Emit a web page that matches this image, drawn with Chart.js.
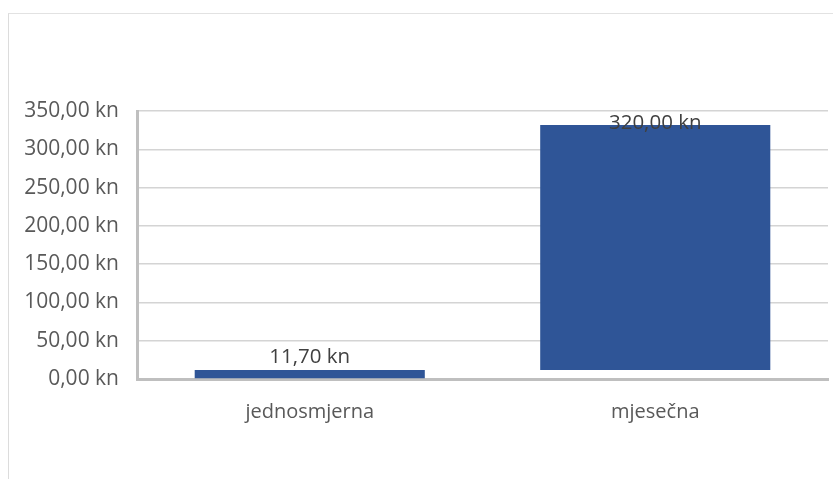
<!DOCTYPE html>
<html>
<head>
<meta charset="utf-8">
<script src="https://cdn.jsdelivr.net/npm/chart.js@4.4.0/dist/chart.umd.min.js"></script>
<style>
    html, body { margin: 0; padding: 0; background: #fff; }
    body { width: 833px; height: 479px; position: relative; overflow: hidden; }
    .frame {
        position: absolute; left: 8px; top: 13px; right: -5px; bottom: -5px;
        border-left: 1.5px solid #dcdcdc; border-top: 1px solid #e2e2e2;
    }
    #wrap { position: absolute; left: 0; top: 0; width: 833px; height: 479px; }
</style>
</head>
<body>
<div class="frame"></div>
<div id="wrap"><canvas id="chart"></canvas></div>
<script>
const categories = ['jednosmjerna', 'mjesečna'];
const prices = [11.70, 320.00];
const yTicks = [0, 50, 100, 150, 200, 250, 300, 350];

const fmt = v => v.toFixed(2).replace('.', ',') + ' kn';

// each bar starts where the previous one ended (waterfall look)
let running = 0;
const floating = prices.map(p => {
    const seg = [running, running + p];
    running += p;
    return seg;
});

const textColor = '#595959';
const fontFamily = "'Open Sans', sans-serif";

const valueLabels = {
    id: 'valueLabels',
    afterDatasetsDraw(chart) {
        const ctx = chart.ctx;
        const meta = chart.getDatasetMeta(0);
        ctx.save();
        ctx.font = '20.5px ' + fontFamily;
        ctx.fillStyle = '#404040';
        ctx.textAlign = 'center';
        ctx.textBaseline = 'middle';
        meta.data.forEach((bar, i) => {
            let y = bar.y - 13;
            if (y < chart.chartArea.top + 12) y = chart.chartArea.top + 12;
            ctx.fillText(fmt(prices[i]), bar.x, y);
        });
        ctx.restore();
    }
};

new Chart(document.getElementById('chart'), {
    type: 'bar',
    data: {
        labels: categories,
        datasets: [{
            data: floating,
            backgroundColor: '#2f5597',
            borderWidth: 0,
            barPercentage: 0.666,
            categoryPercentage: 1
        }]
    },
    options: {
        responsive: true,
        maintainAspectRatio: false,
        animation: false,
        layout: { padding: { top: 111, right: 5, left: 0, bottom: 0 } },
        plugins: { legend: { display: false }, tooltip: { enabled: false } },
        scales: {
            x: {
                grid: { display: false, drawTicks: false },
                border: { display: true, color: '#bfbfbf', width: 3 },
                ticks: { color: textColor, font: { family: fontFamily, size: 20 }, padding: 21 },
                afterFit(scale) { scale.height = 100; }
            },
            y: {
                min: yTicks[0],
                max: yTicks[yTicks.length - 1],
                grid: { color: '#d4d4d4', lineWidth: 1.5, drawTicks: false },
                border: { display: true, color: '#bfbfbf', width: 3 },
                afterBuildTicks(scale) { scale.ticks = yTicks.map(v => ({ value: v })); },
                ticks: {
                    color: textColor,
                    font: { family: fontFamily, size: 21 },
                    padding: 18,
                    callback: v => fmt(v)
                },
                afterFit(scale) { scale.width = 137; }
            }
        }
    },
    plugins: [valueLabels]
});
</script>
</body>
</html>
